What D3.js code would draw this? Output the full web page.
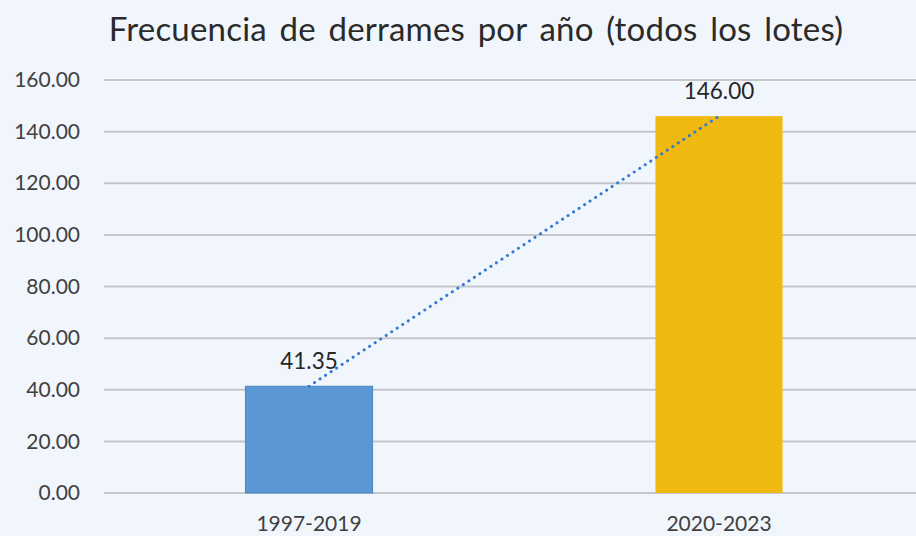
<!DOCTYPE html>
<meta charset="utf-8">
<style>
body { margin: 0; background: #f1f6fc; }
* { font-family: Lato, "Open Sans", sans-serif; }
</style>
<body>
<script src="https://cdn.jsdelivr.net/npm/d3@7"></script>
<script>

var categories = ["1997-2019", "2020-2023"];
var values = [41.35, 146.00];
var barColors = ["#5b97d3", "#f0b90f"];
var yTicks = [0, 20, 40, 60, 80, 100, 120, 140, 160];

var W = 916, H = 536;
var margin = {top: 80, right: -8, bottom: 43, left: 104},
    width = W - margin.left - margin.right,
    height = H - margin.top - margin.bottom;

var svg = d3.select("body").append("svg")
    .attr("width", W)
    .attr("height", H)
    .style("display", "block")
    .style("background", "#f1f6fc");

// title
svg.append("text")
    .attr("x", 476)
    .attr("y", 41)
    .attr("text-anchor", "middle")
    .attr("font-size", "33px")
    .attr("font-weight", 400)
    .attr("letter-spacing", "0.2px")
    .attr("word-spacing", "4px")
    .attr("fill", "#2a2a2a")
    .text("Frecuencia de derrames por año (todos los lotes)");

var g = svg.append("g")
    .attr("transform", "translate(" + margin.left + "," + margin.top + ")");

var x = d3.scaleBand().domain(categories).range([0, width]);
var y = d3.scaleLinear().domain([0, 160]).range([height, 0]);
var barW = x.bandwidth() * 0.31;

// gridlines
g.selectAll(".grid")
    .data(yTicks)
  .enter().append("line")
    .attr("x1", 0)
    .attr("x2", width)
    .attr("y1", function(d) { return y(d); })
    .attr("y2", function(d) { return y(d); })
    .attr("stroke", "#c4c6ca")
    .attr("stroke-width", 2);

// y axis labels
var yAxis = g.append("g")
    .call(d3.axisLeft(y).tickValues(yTicks).tickFormat(d3.format(".2f")).tickSize(0).tickPadding(24));
yAxis.select(".domain").remove();
yAxis.selectAll("text")
    .attr("font-size", "21px")
    .attr("fill", "#404040")
    .style("font-family", "Lato, sans-serif");

// bars
g.selectAll(".bar")
    .data(values)
  .enter().append("rect")
    .attr("x", function(d, i) { return x(categories[i]) + x.bandwidth() / 2 - barW / 2; })
    .attr("y", function(d) { return y(d); })
    .attr("width", barW)
    .attr("height", function(d) { return height - y(d); })
    .attr("fill", function(d, i) { return barColors[i]; })
    .attr("stroke", function(d, i) { return i == 0 ? "#4a86c6" : "none"; });

// trend line (dotted)
var line = d3.line()
    .x(function(d, i) { return x(categories[i]) + x.bandwidth() / 2; })
    .y(function(d) { return y(d); });
g.append("path")
    .datum(values)
    .attr("d", line)
    .attr("fill", "none")
    .attr("stroke", "#3478d4")
    .attr("stroke-width", 3)
    .attr("stroke-linecap", "round")
    .attr("stroke-dasharray", "0.1 6.5");

// value labels
g.selectAll(".lbl")
    .data(values)
  .enter().append("text")
    .attr("x", function(d, i) { return x(categories[i]) + x.bandwidth() / 2; })
    .attr("y", function(d) { return y(d) - 17; })
    .attr("text-anchor", "middle")
    .attr("font-size", "22.5px")
    .attr("fill", "#262626")
    .text(function(d) { return d3.format(".2f")(d); });

// x axis labels
var xAxis = g.append("g")
    .attr("transform", "translate(0," + height + ")")
    .call(d3.axisBottom(x).tickSize(0).tickPadding(23));
xAxis.select(".domain").remove();
xAxis.selectAll("text")
    .attr("font-size", "21px")
    .attr("fill", "#404040")
    .style("font-family", "Lato, sans-serif");

</script>
</body>
</html>
